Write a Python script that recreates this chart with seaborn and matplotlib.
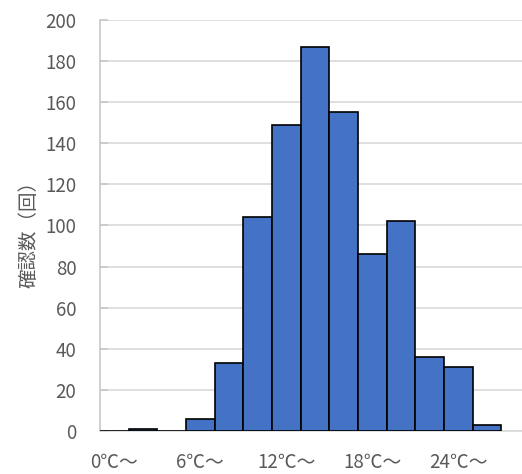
import matplotlib
matplotlib.use("Agg")
import matplotlib.pyplot as plt
import seaborn as sns
import pandas as pd

# 2-degree temperature bins and the number of sightings in each
bin_starts = [0, 2, 4, 6, 8, 10, 12, 14, 16, 18, 20, 22, 24, 26]
counts = [0, 1, 0, 6, 33, 104, 149, 187, 155, 86, 102, 36, 31, 3]
bin_labels = [f"{t}℃〜" for t in bin_starts]
shown_labels = ["0℃〜", "6℃〜", "12℃〜", "18℃〜", "24℃〜"]
y_ticks = [0, 20, 40, 60, 80, 100, 120, 140, 160, 180, 200]

df = pd.DataFrame({"bin": bin_labels, "count": counts})

sns.set_theme(style="white")
plt.rcParams["font.family"] = ["Noto Sans CJK JP", "DejaVu Sans"]

text_grey = "#595959"
line_grey = "#d9d9d9"

fig = plt.figure(figsize=(5.22, 4.74), dpi=100)
# axes run off the right edge of the picture, as in the original crop
ax = fig.add_axes([100 / 522, 43 / 474, 430 / 522, 411 / 474])

sns.barplot(data=df, x="bin", y="count", color="#4472C4", saturation=1,
            width=1.0, edgecolor="black", linewidth=1.2, ax=ax, zorder=3)

ax.set_xlim(-0.5, 14.5)
ax.set_ylim(0, 200)
ax.set_yticks(y_ticks)
ax.set_xticks([bin_labels.index(s) for s in shown_labels])
ax.set_xticklabels(shown_labels)

ax.grid(axis="y", color=line_grey, linewidth=1.2, zorder=0)
ax.grid(axis="x", visible=False)

for side in ["top", "right"]:
    ax.spines[side].set_visible(False)
ax.spines["left"].set_color("#c8c8c8")
ax.spines["bottom"].set_color(line_grey)
ax.spines["left"].set_linewidth(1.2)
ax.spines["bottom"].set_linewidth(1.2)

ax.tick_params(axis="y", direction="in", length=6, width=1.2, color="#c8c8c8",
               pad=17, labelsize=13.5, labelcolor=text_grey, left=True)
ax.tick_params(axis="x", length=0, pad=15, labelsize=13.5, labelcolor=text_grey)

ax.set_xlabel("")
ax.set_ylabel("確認数（回）", fontsize=14, color=text_grey)
ax.yaxis.set_label_coords(-0.140, 0.49)

fig.savefig("out.png", dpi=100)
